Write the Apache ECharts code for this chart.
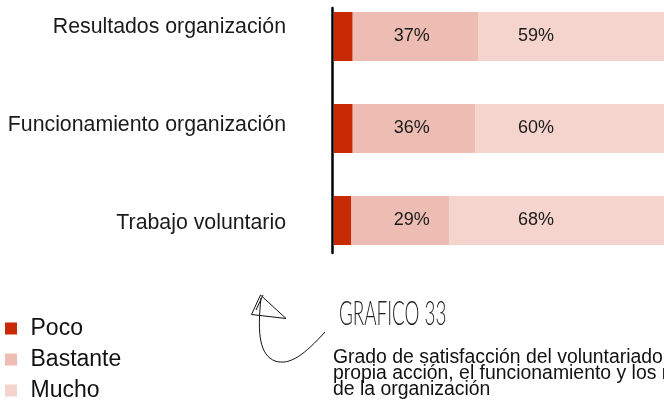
<!DOCTYPE html>
<html>
<head>
<meta charset="utf-8">
<script src="https://cdn.jsdelivr.net/npm/echarts@6/dist/echarts.min.js"></script>
<style>
  html, body { margin: 0; padding: 0; background: #fff; }
  #chart { width: 664px; height: 401px; }
</style>
</head>
<body>
<div id="chart"></div>
<script>
// Categories, bottom to top as the category axis lays them out
const categories = ['Trabajo voluntario', 'Funcionamiento organización', 'Resultados organización'];
const seriesNames = ['Poco', 'Bastante', 'Mucho'];
// Percentages per category
const poco = [5, 5.5, 5.5];
const bastante = [29, 36, 37];
const mucho = [68, 60, 59];

const FONT = '"Liberation Sans", Arial, Helvetica, sans-serif';
const COLORS = ['#C82A05', '#EDBDB3', '#F5D4CE'];

// Horizontal scale of the bar grid (px per percentage point)
const BAR_LEFT = 334;
const PX = 3.4;
// Value labels sit in two fixed columns across all bars
const BASTANTE_COL = 17.6;
const MUCHO_COL = 54.1;

const chart = echarts.init(document.getElementById('chart'), null, { renderer: 'canvas' });

const valueLabel = {
  show: true,
  position: 'insideLeft',
  fontFamily: FONT,
  fontSize: 18,
  color: '#1a1a1a',
  formatter: p => Math.round(p.value) + '%'
};

const bastanteData = bastante.map((v, i) => ({
  value: v,
  label: { distance: (BASTANTE_COL - poco[i]) * PX }
}));
const muchoData = mucho.map((v, i) => ({
  value: v,
  label: { distance: (MUCHO_COL - poco[i] - bastante[i]) * PX }
}));

const option = {
  animation: false,
  backgroundColor: '#ffffff',
  color: COLORS,
  grid: [
    // bars
    { left: BAR_LEFT, top: -9.5, width: 100 * PX, height: 276, outerBoundsMode: 'none', containLabel: false },
    // category names
    { left: BAR_LEFT, top: -22, width: 100 * PX, height: 294, outerBoundsMode: 'none', containLabel: false },
    // vertical baseline
    { left: 332, top: 8, width: 1, height: 245, outerBoundsMode: 'none', containLabel: false }
  ],
  xAxis: [
    { gridIndex: 0, type: 'value', min: 0, max: 100, show: false },
    { gridIndex: 1, type: 'value', min: 0, max: 1, show: false },
    { gridIndex: 2, type: 'value', min: 0, max: 1, show: false }
  ],
  yAxis: [
    { gridIndex: 0, type: 'category', data: categories, show: false },
    {
      gridIndex: 1, type: 'category', data: categories,
      axisLine: { show: false }, axisTick: { show: false },
      axisLabel: { margin: 48, fontFamily: FONT, fontSize: 21.3, color: '#1a1a1a' }
    },
    {
      gridIndex: 2, type: 'value', min: 0, max: 1,
      axisLine: { show: true, onZero: false, lineStyle: { color: '#000', width: 2.5 } },
      axisTick: { show: false }, axisLabel: { show: false }, splitLine: { show: false }
    }
  ],
  legend: {
    data: seriesNames,
    orient: 'vertical',
    left: 5,
    top: 317,
    height: 120,
    padding: 0,
    icon: 'rect',
    itemWidth: 12,
    itemHeight: 12,
    itemGap: 8,
    selectedMode: false,
    textStyle: { fontFamily: FONT, fontSize: 23, color: '#111', padding: [0, 0, 0, 8.5] }
  },
  series: [
    { name: 'Poco', type: 'bar', stack: 'total', xAxisIndex: 0, yAxisIndex: 0, barWidth: 49, data: poco },
    { name: 'Bastante', type: 'bar', stack: 'total', xAxisIndex: 0, yAxisIndex: 0, barWidth: 49, data: bastanteData, label: valueLabel },
    { name: 'Mucho', type: 'bar', stack: 'total', xAxisIndex: 0, yAxisIndex: 0, barWidth: 49, data: muchoData, label: valueLabel }
  ],
  graphic: [
    {
      type: 'text', left: 339, top: 298, scaleX: 0.57,
      style: { text: 'GRAFICO 33', font: '300 33px Lato, "DejaVu Sans", sans-serif', fill: '#222' }
    },
    {
      type: 'text', left: 333, top: 348,
      style: {
        text: 'Grado de satisfacción del voluntariado con su\npropia acción, el funcionamiento y los resultados\nde la organización',
        font: '19.4px ' + FONT, lineHeight: 16, fill: '#111'
      }
    },
    // hand-drawn arrow pointing up towards the chart
    {
      type: 'bezierCurve',
      shape: { x1: 325, y1: 332, cpx1: 305, cpy1: 354, cpx2: 290, cpy2: 366, x2: 275, y2: 361 },
      style: { fill: 'none', stroke: '#111', lineWidth: 1 }
    },
    {
      type: 'bezierCurve',
      shape: { x1: 275, y1: 361, cpx1: 260, cpy1: 355, cpx2: 257, cpy2: 335, x2: 261, y2: 298 },
      style: { fill: 'none', stroke: '#111', lineWidth: 1 }
    },
    {
      type: 'polygon',
      shape: { points: [[251.5, 314.5], [286, 318.5], [260.5, 295]] },
      style: { fill: 'none', stroke: '#111', lineWidth: 1 }
    },
    {
      type: 'polyline',
      shape: { points: [[263, 295], [256, 310]] },
      style: { fill: 'none', stroke: '#111', lineWidth: 1 }
    }
  ]
};

chart.setOption(option);
</script>
</body>
</html>
